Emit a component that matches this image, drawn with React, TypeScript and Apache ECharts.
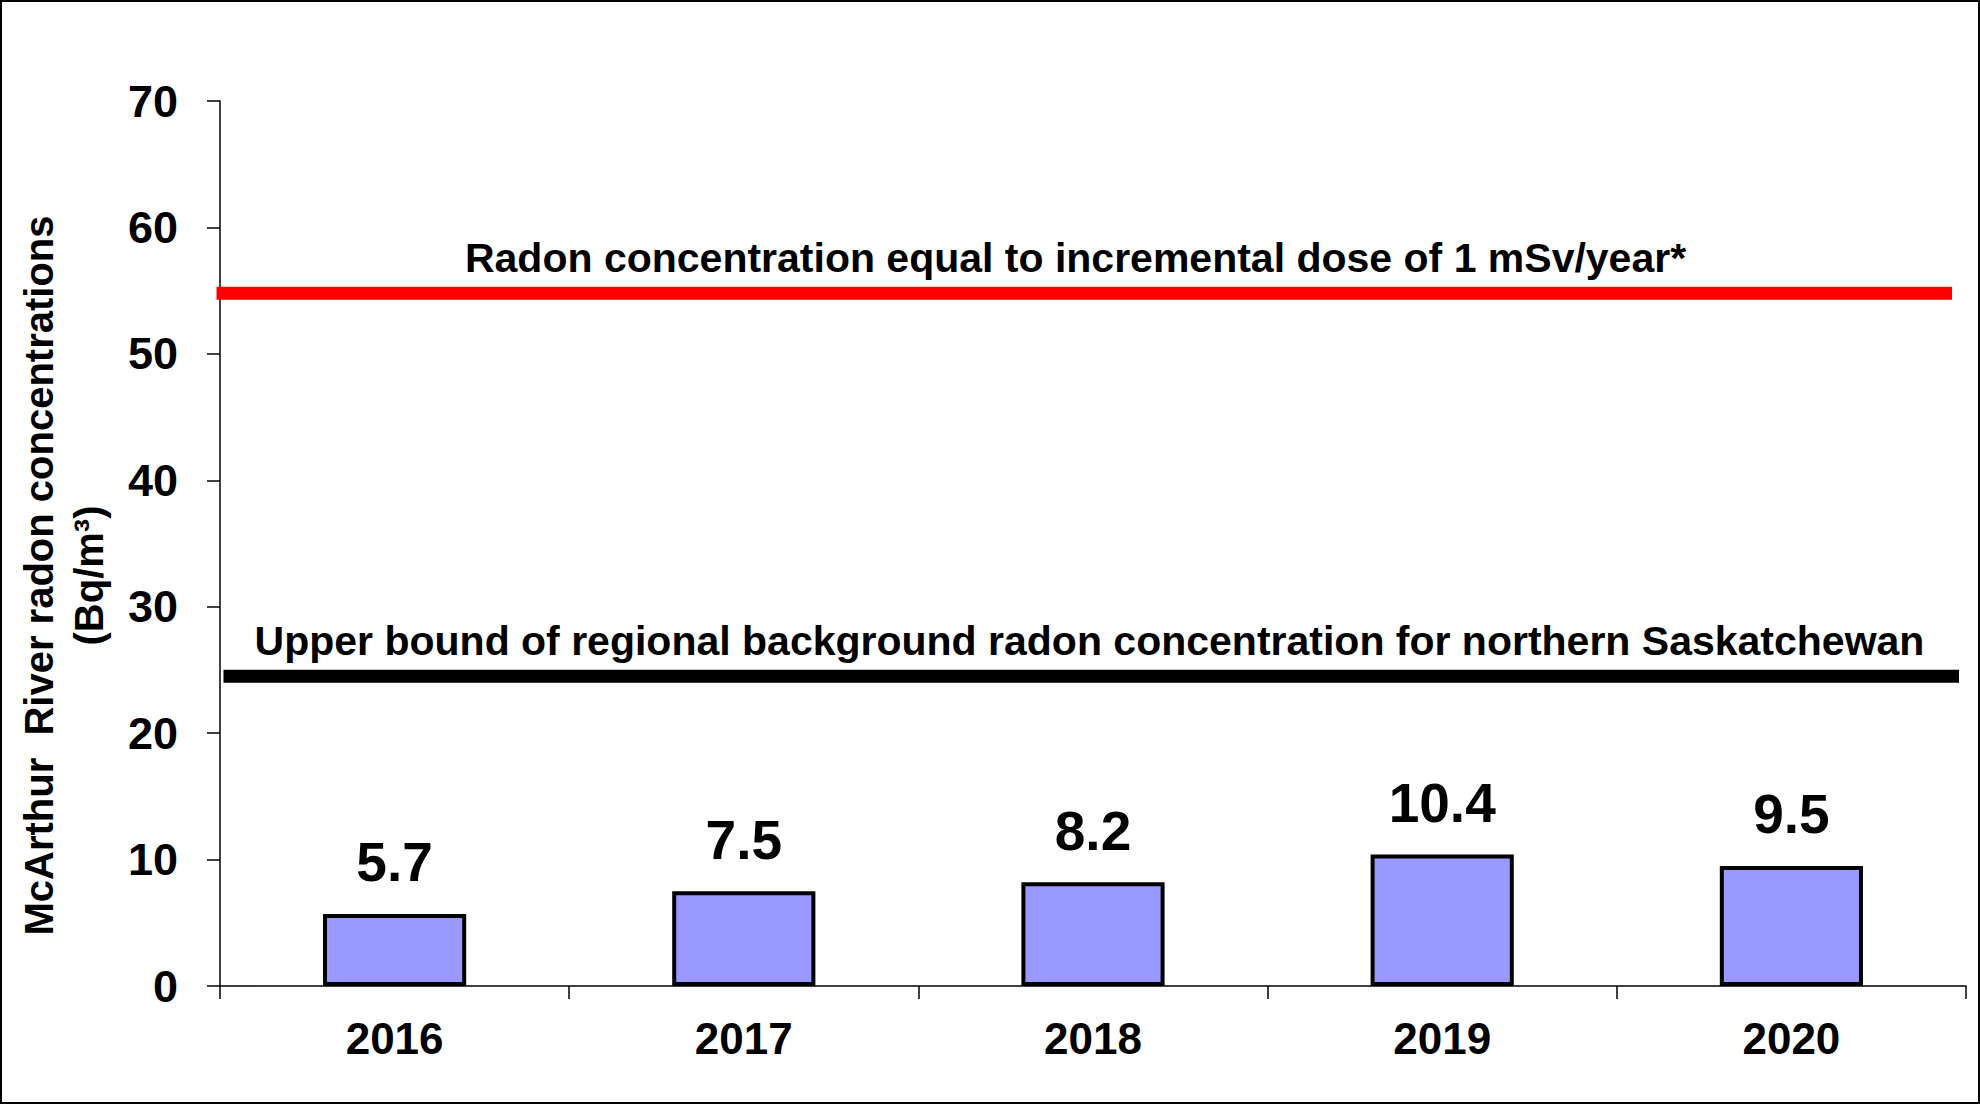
import React, { useEffect, useRef } from 'react';
import * as echarts from 'echarts';

// 年份与氡浓度
const years = ['2016', '2017', '2018', '2019', '2020'];
const radonValues = [5.7, 7.5, 8.2, 10.4, 9.5];

// 两条参考线（数值在隐藏的 0-5 横轴上）
const doseLimitValue = 54.8;
const doseLimitX = [-0.01, 4.96];
const doseLimitLabelX = 2.45;
const doseLimitText = 'Radon concentration equal to incremental dose of 1 mSv/year*';

const backgroundValue = 24.5;
const backgroundX = [0.01, 4.98];
const backgroundLabelX = 2.49;
const backgroundText = 'Upper bound of regional background radon concentration for northern Saskatchewan';

const yTicks = { min: 0, max: 70, interval: 10 };

const FONT = '"Liberation Sans", Arial, sans-serif';

const App = () => {
    const chartRef = useRef<HTMLDivElement>(null);

    useEffect(() => {
        document.body.style.margin = '0';
        if (!chartRef.current) return;
        const myChart = echarts.init(chartRef.current, null, { renderer: 'svg' });

        const refLine = (name: string, value: number, xs: number[], labelX: number, text: string, color: string) => ({
            name: name,
            type: 'line',
            xAxisIndex: 1,
            yAxisIndex: 0,
            clip: false,
            symbol: 'none',
            silent: true,
            data: xs.map((x) => [x, value]),
            lineStyle: { color: color, width: 13, cap: 'butt' },
            markPoint: {
                symbol: 'circle',
                symbolSize: 0,
                silent: true,
                data: [{ coord: [labelX, value] }],
                label: {
                    show: true,
                    position: 'top',
                    distance: 15,
                    formatter: text,
                    color: '#000',
                    fontFamily: FONT,
                    fontWeight: 'bold',
                    fontSize: 41
                }
            }
        });

        const option = {
            animation: false,
            backgroundColor: '#ffffff',
            grid: { left: 220, right: 14, top: 101, bottom: 118 },
            graphic: [
                {
                    type: 'rect',
                    shape: { x: 1, y: 1, width: 1978, height: 1102 },
                    style: { fill: 'none', stroke: '#000', lineWidth: 2 },
                    silent: true
                }
            ],
            xAxis: [
                {
                    type: 'category',
                    data: years,
                    axisLine: { lineStyle: { color: '#000', width: 1.5 } },
                    axisTick: { show: true, length: 13, lineStyle: { color: '#000', width: 1.5 } },
                    axisLabel: {
                        color: '#000',
                        fontFamily: FONT,
                        fontWeight: 'bold',
                        fontSize: 44,
                        margin: 30
                    }
                },
                {
                    type: 'value',
                    min: 0,
                    max: 5,
                    show: false
                }
            ],
            yAxis: {
                type: 'value',
                min: yTicks.min,
                max: yTicks.max,
                interval: yTicks.interval,
                name: 'McArthur  River radon concentrations\n(Bq/m³)',
                nameLocation: 'middle',
                nameRotate: 90,
                nameGap: 106,
                nameTextStyle: {
                    color: '#000',
                    fontFamily: FONT,
                    fontWeight: 'bold',
                    fontSize: 40,
                    lineHeight: 50,
                    align: 'center',
                    padding: [0, 64, 0, 0]
                },
                axisLine: { show: true, lineStyle: { color: '#000', width: 1.5 } },
                axisTick: { show: true, length: 13, lineStyle: { color: '#000', width: 1.5 } },
                splitLine: { show: false },
                axisLabel: {
                    color: '#000',
                    fontFamily: FONT,
                    fontWeight: 'bold',
                    fontSize: 45,
                    margin: 42
                }
            },
            series: [
                {
                    name: 'Radon',
                    type: 'bar',
                    data: radonValues,
                    barWidth: '41%',
                    itemStyle: { color: '#9999FF', borderColor: '#000', borderWidth: 4 },
                    label: {
                        show: true,
                        position: 'top',
                        distance: 24,
                        color: '#000',
                        fontFamily: FONT,
                        fontWeight: 'bold',
                        fontSize: 55
                    }
                },
                refLine('Dose', doseLimitValue, doseLimitX, doseLimitLabelX, doseLimitText, '#FF0000'),
                refLine('Background', backgroundValue, backgroundX, backgroundLabelX, backgroundText, '#000000')
            ]
        };

        myChart.setOption(option as any);

        return () => {
            myChart.dispose();
        };
    }, []);

    return <div ref={chartRef} style={{ width: 1980, height: 1104 }}></div>;
};

export default App;
